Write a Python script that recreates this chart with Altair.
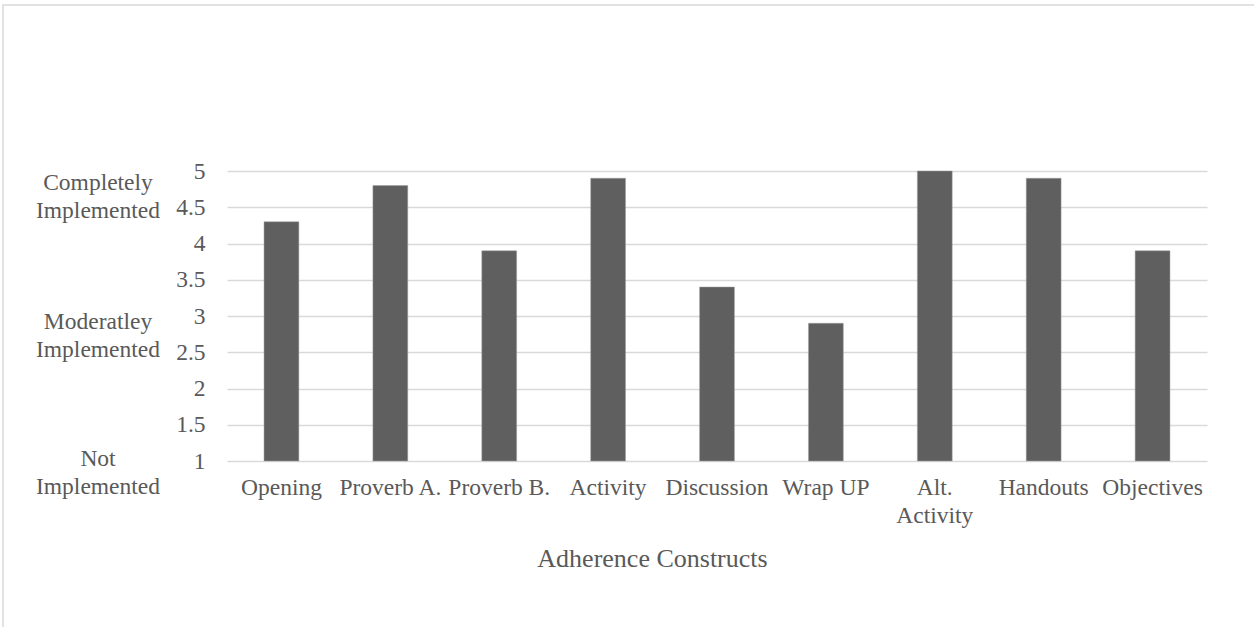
import altair as alt
import pandas as pd

categories = ["Opening", "Proverb A.", "Proverb B.", "Activity", "Discussion",
              "Wrap UP", "Alt. Activity", "Handouts", "Objectives"]
scores = [4.3, 4.8, 3.9, 4.9, 3.4, 2.9, 5.0, 4.9, 3.9]

level_labels = [["Completely", "Implemented"], ["Moderatley", "Implemented"], ["Not", "Implemented"]]
level_values = [4.83, 2.92, 1.03]

y_ticks = [1, 1.5, 2, 2.5, 3, 3.5, 4, 4.5, 5]
y_base = 1

FONT = "Liberation Serif"
TXT = "#595959"

df = pd.DataFrame({"cat": categories, "score": scores})
ann = pd.DataFrame({"lab": level_labels, "v": level_values})

W, H = 980, 290

y_scale = alt.Scale(domain=[1, 5], nice=False, zero=False)
y_axis = alt.Axis(title=None, values=y_ticks, format="~g", labelOverlap=False,
                  labelFont=FONT, labelFontSize=23.5,
                  labelColor=TXT, labelPadding=22, ticks=False, domain=False,
                  grid=True, gridColor="#d9d9d9", gridWidth=1.5)

bars = alt.Chart(df).mark_bar(color="#5f5f5f", stroke="#a0a0a0", strokeWidth=0.5).encode(
    x=alt.X("cat:N", sort=categories,
            scale=alt.Scale(paddingInner=0.68, paddingOuter=0.34),
            axis=alt.Axis(title="Adherence Constructs", labelAngle=0,
                          labelExpr="datum.label == 'Alt. Activity' ? ['Alt.', 'Activity'] : datum.label",
                          labelFont=FONT, labelFontSize=23.5, labelColor=TXT,
                          labelLineHeight=28, labelPadding=14, labelOverlap=False,
                          ticks=False, domain=False, grid=False,
                          titleFont=FONT, titleFontSize=26, titleFontWeight="normal",
                          titleColor=TXT, titleX=425, titleY=97,
                          titleBaseline="middle", titleAlign="center")),
    y=alt.Y("score:Q", scale=y_scale, axis=y_axis),
    y2=alt.Y2(datum=y_base),
)

labels = alt.Chart(ann).mark_text(font=FONT, fontSize=23.5, color=TXT, align="center",
                                   baseline="middle", lineHeight=28).encode(
    text="lab",
    x=alt.value(-129),
    y=alt.Y("v:Q", scale=y_scale, axis=y_axis),
)

border = alt.Chart(pd.DataFrame({"a": [0]})).mark_rect(
    fill=None, stroke="#d9d9d9", strokeWidth=1.5).encode(
    x=alt.value(-224), x2=alt.value(1073), y=alt.value(-166), y2=alt.value(529))

chart = alt.layer(border, bars, labels).properties(
    width=W, height=H,
    padding={"left": 227, "top": 171, "right": 47, "bottom": 166},
    autosize=alt.AutoSizeParams(type="none"),
    background="white",
).configure_view(stroke=None)

chart.save("out.html", embed_options={"renderer": "svg", "actions": False})
